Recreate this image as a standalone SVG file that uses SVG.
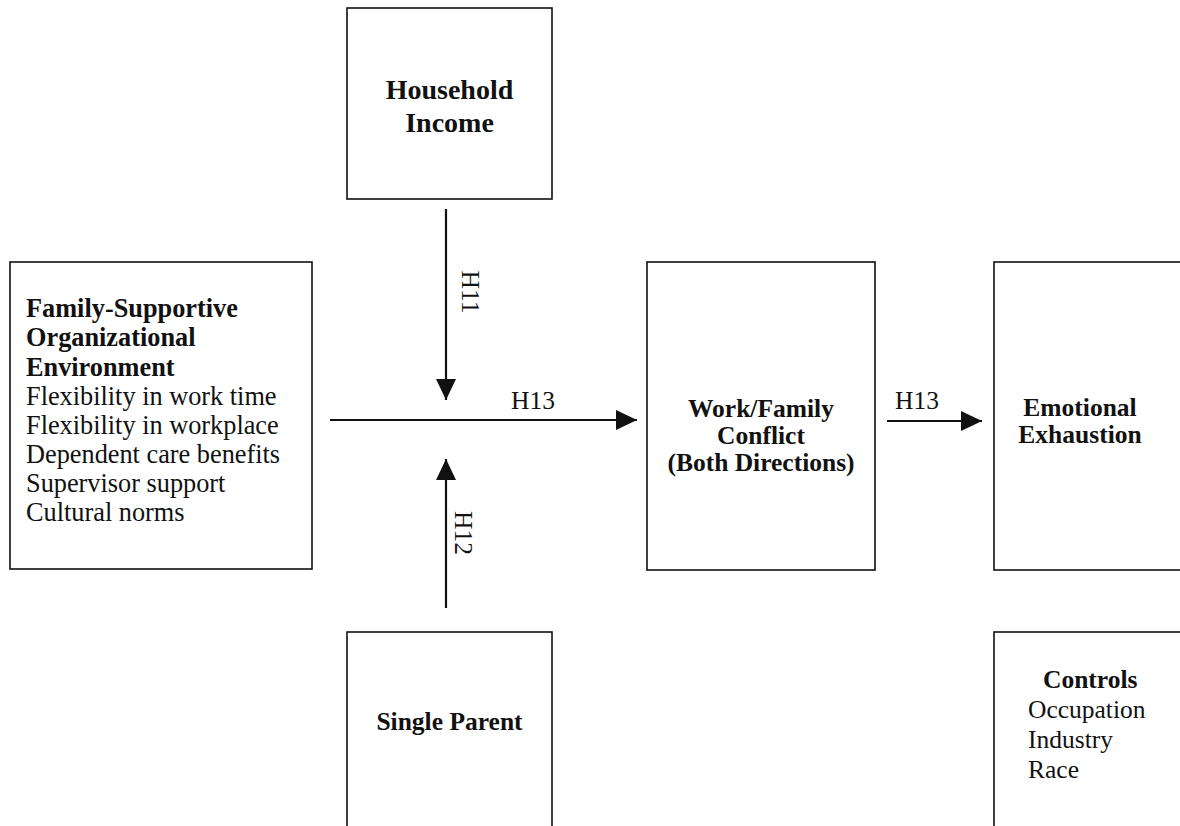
<svg xmlns="http://www.w3.org/2000/svg" width="1180" height="826" viewBox="0 0 1180 826">
<style>
.box{fill:#fff;stroke:#111;stroke-width:1.6}
.t{font-family:"Liberation Serif","Times New Roman",serif;fill:#111;font-size:25.5px}
.l{font-size:26.3px}
.b{font-weight:bold}
.c{text-anchor:middle}
.ln{stroke:#111;stroke-width:2.2;fill:none}
</style>
<defs>
<marker id="ah" markerUnits="userSpaceOnUse" markerWidth="22" markerHeight="22" refX="21" refY="10" orient="auto">
<path d="M0,0 L21,10 L0,20 z" fill="#111"/>
</marker>
</defs>
<rect width="1180" height="826" fill="#fff"/>
<g id="household">
<rect class="box" x="347" y="8" width="205" height="191"/>
<text class="t b c" x="449.5" y="99" style="font-size:28px">Household</text>
<text class="t b c" x="449.5" y="132" style="font-size:28px">Income</text>
</g>
<g id="fsoe">
<rect class="box" x="10" y="262" width="302" height="307"/>
<text class="t l b" x="26" y="317">Family-Supportive</text>
<text class="t l b" x="26" y="346">Organizational</text>
<text class="t l b" x="26" y="376">Environment</text>
<text class="t l" x="26" y="405">Flexibility in work time</text>
<text class="t l" x="26" y="434">Flexibility in workplace</text>
<text class="t l" x="26" y="463">Dependent care benefits</text>
<text class="t l" x="26" y="492">Supervisor support</text>
<text class="t l" x="26" y="521">Cultural norms</text>
</g>
<g id="wfc">
<rect class="box" x="647" y="262" width="228" height="308"/>
<text class="t b c" x="761" y="417">Work/Family</text>
<text class="t b c" x="761" y="444">Conflict</text>
<text class="t b c" x="761" y="471">(Both Directions)</text>
</g>
<g id="exhaustion">
<rect class="box" x="994" y="262" width="220" height="308"/>
<text class="t b c" x="1080" y="416">Emotional</text>
<text class="t b c" x="1080" y="443">Exhaustion</text>
</g>
<g id="single">
<rect class="box" x="347" y="632" width="205" height="230"/>
<text class="t b c" x="449.5" y="730">Single Parent</text>
</g>
<g id="controls">
<rect class="box" x="994" y="632" width="220" height="230"/>
<text class="t b" x="1043" y="688">Controls</text>
<text class="t" x="1028" y="718">Occupation</text>
<text class="t" x="1028" y="748">Industry</text>
<text class="t" x="1028" y="778">Race</text>
</g>
<g id="connectors">
<line class="ln" x1="446" y1="209" x2="446" y2="400" marker-end="url(#ah)"/>
<line class="ln" x1="446" y1="608" x2="446" y2="459" marker-end="url(#ah)"/>
<line class="ln" x1="330" y1="420" x2="637" y2="420" marker-end="url(#ah)"/>
<line class="ln" x1="887" y1="421" x2="982" y2="421" marker-end="url(#ah)"/>
<text class="t" x="462" y="292" text-anchor="middle" transform="rotate(90 462 292)">H11</text>
<text class="t" x="455" y="533" text-anchor="middle" transform="rotate(90 455 533)">H12</text>
<text class="t c" x="533" y="409">H13</text>
<text class="t c" x="917" y="409">H13</text>
</g>
</svg>
